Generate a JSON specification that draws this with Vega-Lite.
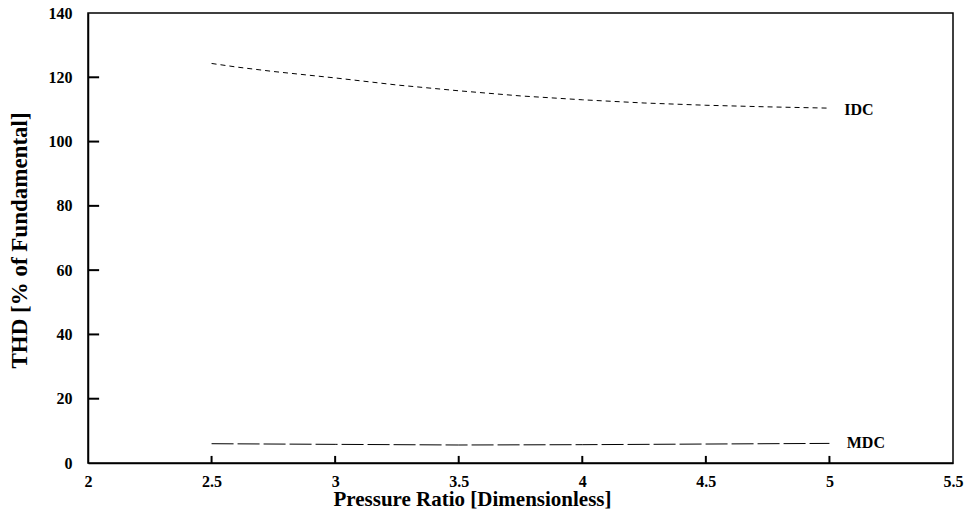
{
  "$schema": "https://vega.github.io/schema/vega-lite/v6.json",
  "width": 865,
  "height": 450,
  "autosize": {"type": "none"},
  "padding": {"left": 88, "top": 13, "right": 15, "bottom": 56},
  "background": "white",
  "config": {
    "view": {"stroke": "black", "strokeWidth": 1.5},
    "font": "Liberation Serif",
    "axis": {
      "labelFont": "Liberation Serif",
      "labelFontWeight": "bold",
      "labelFontSize": 16,
      "labelColor": "black",
      "titleFont": "Liberation Serif",
      "titleFontWeight": "bold",
      "titleColor": "black",
      "domainColor": "black",
      "domainWidth": 1.5,
      "ticks": false,
      "grid": false
    }
  },
  "datasets": {
    "curves": [
      {"ratio": 2.5, "thd": 124.3, "series": "IDC"},
      {"ratio": 2.6, "thd": 123.2, "series": "IDC"},
      {"ratio": 2.75, "thd": 121.8, "series": "IDC"},
      {"ratio": 3.0, "thd": 119.8, "series": "IDC"},
      {"ratio": 3.25, "thd": 117.6, "series": "IDC"},
      {"ratio": 3.5, "thd": 115.8, "series": "IDC"},
      {"ratio": 3.75, "thd": 114.2, "series": "IDC"},
      {"ratio": 4.0, "thd": 113.0, "series": "IDC"},
      {"ratio": 4.25, "thd": 112.0, "series": "IDC"},
      {"ratio": 4.5, "thd": 111.3, "series": "IDC"},
      {"ratio": 4.75, "thd": 110.8, "series": "IDC"},
      {"ratio": 5.0, "thd": 110.4, "series": "IDC"},
      {"ratio": 2.5, "thd": 6.0, "series": "MDC"},
      {"ratio": 3.0, "thd": 5.8, "series": "MDC"},
      {"ratio": 3.5, "thd": 5.6, "series": "MDC"},
      {"ratio": 4.0, "thd": 5.7, "series": "MDC"},
      {"ratio": 4.5, "thd": 5.9, "series": "MDC"},
      {"ratio": 5.0, "thd": 6.1, "series": "MDC"}
    ],
    "labels": [
      {"ratio": 5.06, "thd": 109.8, "label": "IDC"},
      {"ratio": 5.07, "thd": 6.2, "label": "MDC"}
    ],
    "yticks": [
      {"from": 2, "to": 2.045, "level": 20},
      {"from": 2, "to": 2.045, "level": 40},
      {"from": 2, "to": 2.045, "level": 60},
      {"from": 2, "to": 2.045, "level": 80},
      {"from": 2, "to": 2.045, "level": 100},
      {"from": 2, "to": 2.045, "level": 120}
    ],
    "xticks": [
      {"pos": 2.5, "lo": 0, "hi": 2.2},
      {"pos": 3, "lo": 0, "hi": 2.2},
      {"pos": 3.5, "lo": 0, "hi": 2.2},
      {"pos": 4, "lo": 0, "hi": 2.2},
      {"pos": 4.5, "lo": 0, "hi": 2.2},
      {"pos": 5, "lo": 0, "hi": 2.2}
    ]
  },
  "layer": [
    {
      "data": {"name": "curves"},
      "mark": {"type": "line", "color": "black", "strokeWidth": 1},
      "encoding": {
        "x": {
          "field": "ratio", "type": "quantitative",
          "scale": {"domain": [2, 5.5], "nice": false, "zero": false},
          "axis": {
            "values": [2, 2.5, 3, 3.5, 4, 4.5, 5, 5.5],
            "labelExpr": "'' + datum.value",
            "title": "Pressure Ratio [Dimensionless]",
            "titleFontSize": 21,
            "titleBaseline": "alphabetic",
            "titleX": 384,
            "titleY": 42,
            "labelPadding": 10,
            "labelFlush": false
          }
        },
        "y": {
          "field": "thd", "type": "quantitative",
          "scale": {"domain": [0, 140], "nice": false},
          "axis": {
            "values": [0, 20, 40, 60, 80, 100, 120, 140],
            "labelExpr": "'' + datum.value",
            "title": "THD [% of Fundamental]",
            "titleFontSize": 23,
            "titleBaseline": "middle",
            "titleX": -69,
            "titleY": 227,
            "labelPadding": 16
          }
        },
        "detail": {"field": "series"},
        "strokeDash": {
          "field": "series", "type": "nominal",
          "scale": {"domain": ["IDC", "MDC"], "range": [[5, 4], [22, 4]]},
          "legend": null
        }
      }
    },
    {
      "data": {"name": "yticks"},
      "mark": {"type": "rule", "color": "black", "strokeWidth": 2},
      "encoding": {
        "x": {"field": "from", "type": "quantitative"},
        "x2": {"field": "to"},
        "y": {"field": "level", "type": "quantitative"}
      }
    },
    {
      "data": {"name": "xticks"},
      "mark": {"type": "rule", "color": "black", "strokeWidth": 2},
      "encoding": {
        "x": {"field": "pos", "type": "quantitative"},
        "y": {"field": "lo", "type": "quantitative"},
        "y2": {"field": "hi"}
      }
    },
    {
      "data": {"name": "labels"},
      "mark": {"type": "text", "align": "left", "baseline": "middle", "font": "Liberation Serif", "fontWeight": "bold", "fontSize": 16, "color": "black"},
      "encoding": {
        "x": {"field": "ratio", "type": "quantitative"},
        "y": {"field": "thd", "type": "quantitative"},
        "text": {"field": "label"}
      }
    }
  ]
}
